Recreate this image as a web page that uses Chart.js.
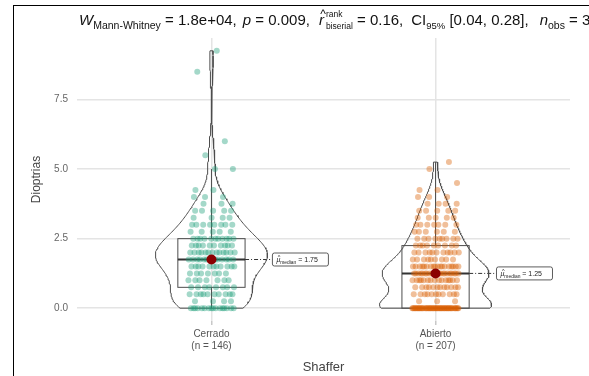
<!DOCTYPE html>
<html>
<head>
<meta charset="utf-8">
<script src="https://cdn.jsdelivr.net/npm/chart.js@4.4.1/dist/chart.umd.min.js"></script>
<style>
  html, body { margin: 0; padding: 0; background: #fff; }
  #wrap { position: relative; width: 589px; height: 376px; overflow: hidden; }
  #frame { position: absolute; left: 13px; top: 5px; width: 700px; height: 500px;
           border-left: 1.5px solid #000; border-top: 1.5px solid #000; pointer-events: none; }
</style>
</head>
<body>
<div id="wrap">
  <canvas id="myChart" width="589" height="376"></canvas>
  <div id="frame"></div>
</div>
<script>
// groups on the x axis
const groups = ['Cerrado', 'Abierto'];
const groupN = [146, 207];

// diopter values (0.25 steps) and how many eyes had each one
const cerradoValues = [0, 0.25, 0.5, 0.75, 1, 1.25, 1.5, 1.75, 2, 2.25, 2.5, 2.75, 3, 3.25, 3.5, 3.75, 4, 4.25, 5, 5.5, 6, 8.5, 9.25];
const cerradoCounts = [16, 4, 10, 8, 7, 7, 11, 13, 13, 10, 11, 5, 8, 4, 5, 3, 3, 2, 2, 1, 1, 1, 1];

const abiertoValues = [0, 0.25, 0.5, 0.75, 1, 1.25, 1.5, 1.75, 2, 2.25, 2.5, 2.75, 3, 3.25, 3.5, 3.75, 4, 4.25, 4.5, 5, 5.25];
const abiertoCounts = [53, 3, 11, 12, 15, 22, 18, 9, 11, 9, 9, 6, 7, 5, 5, 4, 3, 2, 1, 1, 1];

const yTicks = [0, 2.5, 5, 7.5];

// subtitle pieces (ggstatsplot style)
const statW = '1.8e+04';
const statP = '0.009';
const statR = '0.16';
const statCI = '[0.04, 0.28]';
const statNobs = '353';

const pointColors = ['rgba(27,158,119,0.4)', 'rgba(217,95,2,0.4)'];
const FONT = '"Liberation Sans", Arial, sans-serif';

// expand counts into a flat list of values
const expand = (vals, cnts) => {
  const out = [];
  vals.forEach((v, i) => { for (let k = 0; k < cnts[i]; k++) out.push(v); });
  return out;
};
const samples = [expand(cerradoValues, cerradoCounts), expand(abiertoValues, abiertoCounts)];

const quantile = (arr, p) => {
  const s = [...arr].sort((a, b) => a - b);
  const h = (s.length - 1) * p;
  const lo = Math.floor(h);
  return s[lo] + (h - lo) * ((s[lo + 1] ?? s[lo]) - s[lo]);
};
const sd = arr => {
  const m = arr.reduce((a, b) => a + b, 0) / arr.length;
  return Math.sqrt(arr.reduce((a, b) => a + (b - m) ** 2, 0) / (arr.length - 1));
};

const stats = samples.map(s => {
  const q1 = quantile(s, 0.25), med = quantile(s, 0.5), q3 = quantile(s, 0.75);
  const iqr = q3 - q1;
  const inside = s.filter(v => v >= q1 - 1.5 * iqr && v <= q3 + 1.5 * iqr);
  return { q1, med, q3, lo: Math.min(...inside), hi: Math.max(...inside) };
});

// violin outline: gaussian kde (bw.nrd0), trimmed to data range, scaled to same max width
const violin = (s, c) => {
  const n = s.length;
  const bw = 0.9 * Math.min(sd(s), (quantile(s, 0.75) - quantile(s, 0.25)) / 1.34) * Math.pow(n, -0.2);
  const lo = Math.min(...s), hi = Math.max(...s);
  const ys = [], ds = [];
  for (let i = 0; i <= 200; i++) {
    const y = lo + (hi - lo) * i / 200;
    let d = 0;
    s.forEach(v => { d += Math.exp(-0.5 * ((y - v) / bw) ** 2); });
    ys.push(y); ds.push(d);
  }
  const mx = Math.max(...ds);
  const left = ys.map((y, i) => ({ x: c - 0.25 * ds[i] / mx, y }));
  const right = ys.map((y, i) => ({ x: c + 0.25 * ds[i] / mx, y })).reverse();
  return [...left, ...right, left[0]];
};

// spread points sideways inside each row (fixed low-discrepancy offsets, not random)
const jitter = (vals, cnts, c) => {
  const pts = [];
  vals.forEach((v, r) => {
    for (let j = 0; j < cnts[r]; j++) {
      const f = (0.5 + j * 0.618034 + r * 0.4142136) % 1;
      pts.push({ x: c + (f - 0.5) * 0.21, y: v });
    }
  });
  return pts;
};

const datasets = [];
[[cerradoValues, cerradoCounts], [abiertoValues, abiertoCounts]].forEach(([vals, cnts], g) => {
  datasets.push({
    type: 'scatter', data: jitter(vals, cnts, g + 1), pointRadius: 3, pointBackgroundColor: pointColors[g],
    pointBorderWidth: 0, order: 2
  });
  datasets.push({
    type: 'scatter', data: violin(samples[g], g + 1), showLine: true, borderColor: '#4d4d4d', borderWidth: 1,
    pointRadius: 0, fill: false, order: 3
  });
});
datasets.push({
  type: 'scatter', data: stats.map((st, g) => ({ x: g + 1, y: st.med })), pointRadius: 5,
  pointBackgroundColor: '#8B0000', pointBorderWidth: 0, order: 0
});

// draw text pieces with italic / sub / sup; each piece may carry an extra gap before it
const drawRich = (ctx, x, y, parts, base) => {
  ctx.textBaseline = 'alphabetic';
  ctx.textAlign = 'left';
  parts.forEach(p => {
    x += p.gap || 0;
    if (p.sup !== undefined) {
      const sz = p.size || base * 0.57;
      ctx.font = sz + 'px ' + FONT;
      const w = Math.max(ctx.measureText(p.sup).width, ctx.measureText(p.sub).width);
      ctx.fillText(p.sup, x, y - base * 0.55);
      ctx.fillText(p.sub, x, y + base * 0.27);
      x += w;
      return;
    }
    const sz = p.sub ? (p.size || base * 0.7) : base;
    ctx.font = (p.italic ? 'italic ' : '') + sz + 'px ' + FONT;
    const yy = p.sub ? y + base * 0.25 : y;
    ctx.fillText(p.t, x, yy);
    const w = ctx.measureText(p.t).width;
    if (p.hat) {
      ctx.font = (sz * 0.8) + 'px ' + FONT;
      ctx.textAlign = 'center';
      ctx.fillText('^', x + w / 2 + sz * 0.12, yy - sz * 0.45);
      ctx.textAlign = 'left';
    }
    x += w;
  });
};

const statsPlugin = {
  id: 'stats',
  beforeDatasetsDraw(chart) {
    const { ctx, scales: { x, y } } = chart;
    ctx.save();
    stats.forEach((st, g) => {
      const c = g + 1;
      const xl = x.getPixelForValue(c - 0.15), xr = x.getPixelForValue(c + 0.15), xc = x.getPixelForValue(c);
      ctx.strokeStyle = '#4d4d4d';
      ctx.lineWidth = 1;
      // whiskers
      ctx.beginPath();
      ctx.moveTo(xc, y.getPixelForValue(st.q3)); ctx.lineTo(xc, y.getPixelForValue(st.hi));
      ctx.moveTo(xc, y.getPixelForValue(st.q1)); ctx.lineTo(xc, y.getPixelForValue(st.lo));
      ctx.stroke();
      // box
      ctx.strokeRect(xl, y.getPixelForValue(st.q3), xr - xl, y.getPixelForValue(st.q1) - y.getPixelForValue(st.q3));
      // median
      ctx.lineWidth = 2;
      ctx.strokeStyle = '#333';
      ctx.beginPath();
      ctx.moveTo(xl, y.getPixelForValue(st.med)); ctx.lineTo(xr, y.getPixelForValue(st.med));
      ctx.stroke();
      // leader to label
      ctx.lineWidth = 1;
      ctx.setLineDash([4, 2, 1, 2]);
      ctx.beginPath();
      ctx.moveTo(xr, y.getPixelForValue(st.med)); ctx.lineTo(x.getPixelForValue(c + 0.272), y.getPixelForValue(st.med));
      ctx.stroke();
      ctx.setLineDash([]);
    });
    ctx.restore();
  },
  afterDatasetsDraw(chart) {
    const { ctx, scales: { x, y } } = chart;
    ctx.save();
    stats.forEach((st, g) => {
      const lx = x.getPixelForValue(g + 1 + 0.272), ly = y.getPixelForValue(st.med);
      const w = 56, h = 13;
      ctx.fillStyle = '#fff';
      ctx.strokeStyle = '#333';
      ctx.lineWidth = 0.8;
      ctx.beginPath();
      ctx.roundRect(lx, ly - h / 2, w, h, 2);
      ctx.fill(); ctx.stroke();
      ctx.fillStyle = '#222';
      drawRich(ctx, lx + 4, ly + 2.5, [
        { t: '\u03BC', italic: true, hat: true }, { t: 'median', sub: true }, { t: ' = ' + st.med.toFixed(2) }
      ], 7);
    });
    ctx.restore();
  },
  afterDraw(chart) {
    const { ctx } = chart;
    ctx.save();
    ctx.fillStyle = '#111';
    drawRich(ctx, 79, 25, [
      { t: 'W', italic: true }, { t: 'Mann-Whitney', sub: true, size: 10.5 }, { t: ' = ' + statW + ',' },
      { t: 'p', italic: true, gap: 6 }, { t: ' = ' + statP + ',' },
      { t: 'r', italic: true, hat: true, gap: 9 }, { sup: 'rank', sub: 'biserial', gap: 2, size: 8.5 },
      { t: ' = ' + statR + ',' }, { t: 'CI', gap: 8 },
      { t: '95%', sub: true, size: 9.5 }, { t: ' ' + statCI + ',' },
      { t: 'n', italic: true, gap: 11 }, { t: 'obs', sub: true, size: 10.5 }, { t: ' = ' + statNobs }
    ], 15);
    ctx.restore();
  }
};

const ctx = document.getElementById('myChart');
new Chart(ctx, {
  data: { datasets },
  options: {
    responsive: false,
    animation: false,
    layout: { padding: { top: 38, right: 19, left: 0, bottom: 0 } },
    plugins: { legend: { display: false }, tooltip: { enabled: false } },
    scales: {
      x: {
        type: 'linear', min: 0.4, max: 2.6,
        afterBuildTicks: s => { s.ticks = [{ value: 1 }, { value: 2 }]; },
        afterFit: s => { s.height = 55; },
        ticks: {
          autoSkip: false, maxRotation: 0, padding: 3, color: '#555',
          font: { size: 10, family: FONT },
          callback: v => [groups[v - 1], '(n = ' + groupN[v - 1] + ')']
        },
        grid: { color: '#E4E4E4', lineWidth: 1.5, tickLength: 4, tickColor: '#c8c8c8' },
        border: { display: false },
        title: {
          display: true, text: 'Shaffer', color: '#444', padding: { top: 0, bottom: 1 },
          font: { size: 13, family: FONT }
        }
      },
      y: {
        min: -0.46, max: 9.71,
        afterBuildTicks: s => { s.ticks = yTicks.map(v => ({ value: v })); },
        afterFit: s => { s.width = 77; },
        ticks: {
          padding: 9, color: '#666',
          font: { size: 10, family: FONT },
          callback: v => v.toFixed(1)
        },
        grid: { color: '#E4E4E4', lineWidth: 1.5, drawTicks: false },
        border: { display: false },
        title: {
          display: true, text: 'Dioptrias', color: '#444', padding: { top: 29, bottom: 0 },
          font: { size: 12, family: FONT }
        }
      }
    }
  },
  plugins: [statsPlugin]
});
</script>
</body>
</html>
